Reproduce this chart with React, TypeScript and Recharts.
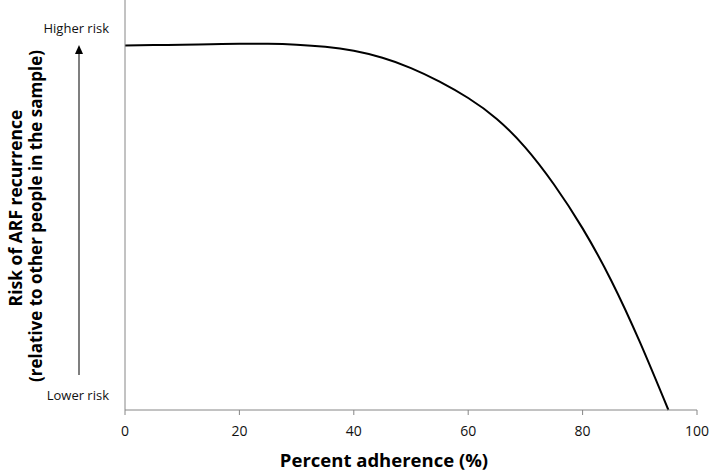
import { LineChart, Line, XAxis, YAxis } from 'recharts';

const adherence = [0, 5, 10, 15, 20, 25, 30, 35, 40, 45, 50, 55, 60, 65, 70, 75, 80, 85, 90, 95];
const risk = [88.9, 89.0, 89.1, 89.2, 89.3, 89.3, 89.1, 88.6, 87.6, 85.9, 83.4, 80.1, 76.1, 71.0, 64.0, 55.0, 44.3, 31.6, 16.6, 0];
const xTicks = [0, 20, 40, 60, 80, 100];
const riskTicks = [3.5, 93];
const riskTickLabels: Record<number, string> = { 3.5: 'Lower risk', 93: 'Higher risk' };

const data = adherence.map((x, i) => ({ x, risk: risk[i] }));

const font = '"Open Sans", sans-serif';
const axisGray = '#868686';

export default function App() {
  return (
    <div style={{ position: 'absolute', left: 0, top: 0, width: 709, height: 471, background: '#fff', fontFamily: font }}>
      <LineChart width={709} height={471} data={data} margin={{ top: 0, right: 12, bottom: 6, left: 0 }}>
        <XAxis
          dataKey="x"
          type="number"
          domain={[0, 100]}
          ticks={xTicks}
          stroke={axisGray}
          tickSize={5}
          height={55}
          tick={{ fill: '#111', fontSize: 14, fontFamily: font }}
          tickMargin={11}
        />
        <YAxis
          type="number"
          domain={[0, 100]}
          ticks={riskTicks}
          tickFormatter={(v: number) => riskTickLabels[v] ?? ''}
          tickLine={false}
          stroke={axisGray}
          width={125}
          tick={{ fill: '#111', fontSize: 13, fontFamily: font }}
          tickMargin={10}
        />
        <Line type="natural" dataKey="risk" stroke="#000" strokeWidth={2} dot={false} isAnimationActive={false} />
      </LineChart>
      <svg width={709} height={471} style={{ position: 'absolute', left: 0, top: 0, pointerEvents: 'none' }}>
        <text x={15} y={208} transform="rotate(-90 15 208)" textAnchor="middle" dominantBaseline="central" fontSize={17.5} fontWeight={700} fontFamily={font} fill="#000">
          Risk of ARF recurrence
        </text>
        <text x={35} y={216} transform="rotate(-90 35 216)" textAnchor="middle" dominantBaseline="central" fontSize={17} fontWeight={700} fontFamily={font} fill="#000">
          (relative to other people in the sample)
        </text>
        <line x1={79} y1={375} x2={79} y2={53} stroke="#555" strokeWidth={1.5} />
        <polygon points="79,45 75,54 83,54" fill="#000" />
        <text x={384} y={459} textAnchor="middle" dominantBaseline="central" fontSize={18.5} fontWeight={700} fontFamily={font} fill="#000">
          Percent adherence (%)
        </text>
      </svg>
    </div>
  );
}
